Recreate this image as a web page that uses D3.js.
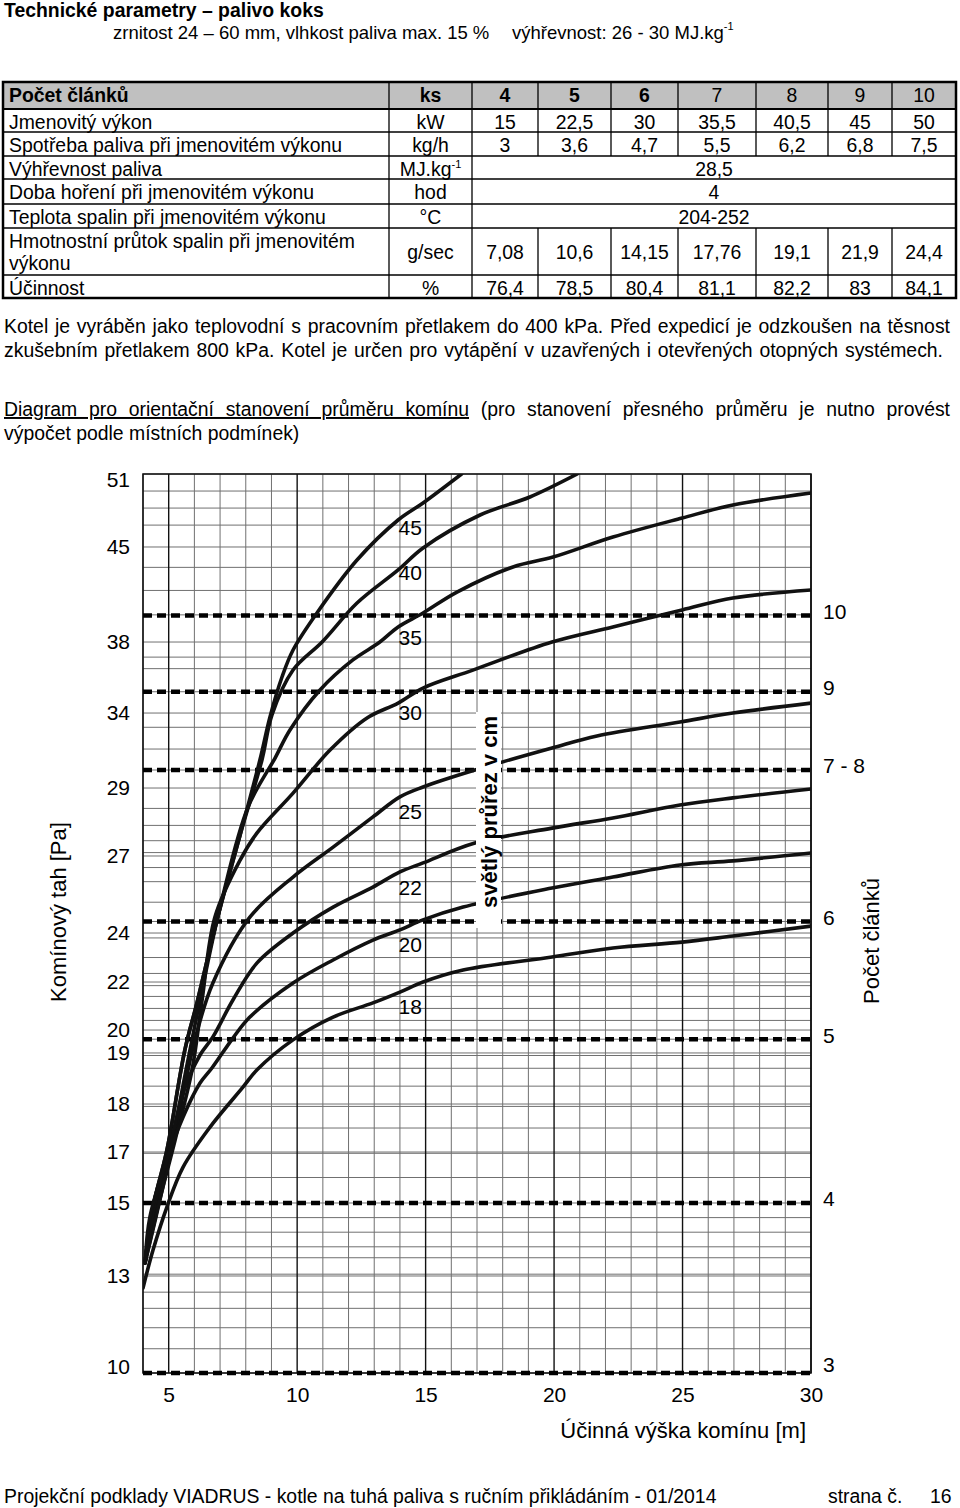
<!DOCTYPE html>
<html><head><meta charset="utf-8">
<script src="https://cdn.jsdelivr.net/npm/d3@7"></script>
<style>
body{margin:0;background:#fff;}
svg{display:block;font-family:"Liberation Sans",Arial,Helvetica,sans-serif;}
</style></head><body>
<svg id="c" width="960" height="1508"></svg>
<script>
// ---------- table data ----------
const sectionCounts   = ["4","5","6","7","8","9","10"];
const nominalOutput   = ["15","22,5","30","35,5","40,5","45","50"];
const fuelConsumption = ["3","3,6","4,7","5,5","6,2","6,8","7,5"];
const calorificValue  = "28,5";
const burnTime        = "4";
const fluegasTemp     = "204-252";
const fluegasFlow     = ["7,08","10,6","14,15","17,76","19,1","21,9","24,4"];
const efficiency      = ["76,4","78,5","80,4","81,1","82,2","83","84,1"];

// ---------- chart data ----------
const xTicks = [5,10,15,20,25,30];
const yTicks = [51,45,38,34,29,27,24,22,20,19,18,17,15,13,10];
const yGridValues = [49.6,48.2,46.8,43.5,41.8,40,37.15,36.5,35.2,33.05,31.6,30.2,28.4,27.9,27.45,27.1,
  26.55,26,25.2,24.45,23.8,23,22.35,21.85,21.4,20.9,20.4,19.6,18.95,18.7,18.35,17.95,17.5,16.95,16,
  14.6,14.2,13.8,13.5,13.05,12.5,12,11.4,10.75];
const sectionLabels = ["10","9","7 - 8","6","5","4","3"];
const sectionDraft  = [39.95,35.2,30.2,24.45,19.6,15,10];
const crossSections = [45,40,35,30,25,22,20,18];
const curve45 = [[4.08,13.36],[4.39,14.89],[4.93,17.04],[5.63,19.13],[6.10,21.13],[6.88,24.51],[7.78,27.62],[8.55,30.87],[8.94,33.73],[9.41,36.03],[9.84,37.55],[10.77,40.14],[12.33,44.04],[13.93,47.22],[14.90,48.62],[16.4,51]];
const curve40 = [[4.08,13.36],[4.39,14.89],[4.93,17.04],[5.63,19.13],[6.10,21.13],[6.88,24.51],[7.78,27.62],[8.63,30.87],[9.02,33.87],[9.84,36.42],[10.97,38.0],[12.33,40.87],[13.93,43.31],[14.90,44.93],[17.12,47.63],[19.06,49.11],[20.9,51]];
const curve35 = [[4.08,13.36],[4.47,14.89],[5.05,17.04],[5.75,18.86],[6.34,21.88],[7.07,25.29],[8.09,28.44],[9.14,31.0],[9.72,32.87],[10.89,35.30],[12.17,36.99],[13.22,38.0],[13.93,39.11],[14.90,40.14],[16.22,41.68],[18.40,43.53],[19.96,44.26],[22.29,45.82],[24.98,47.38],[26.96,48.45],[30,49.44]];
const curve30 = [[4.08,13.36],[4.58,14.89],[5.25,17.25],[5.91,18.67],[6.30,21.25],[6.80,24.62],[7.78,26.84],[8.44,27.68],[9.84,28.85],[11.28,31.53],[12.72,33.67],[13.93,34.56],[14.90,35.41],[16.84,36.42],[19.92,38.0],[22.29,39.11],[24.98,40.36],[26.96,41.24],[30,41.83]];
const curve25 = [[4.08,13.36],[4.66,15.12],[5.36,17.67],[6.02,19.57],[6.72,21.96],[8.16,24.62],[9.84,26.18],[11.40,27.26],[12.95,28.15],[14.0,28.74],[14.90,29.07],[16.92,30.2],[19.92,31.67],[21.67,32.47],[24.90,33.4],[26.96,34.0],[30,34.56]];
const curve22 = [[4.08,13.36],[4.47,15.0],[4.97,16.80],[5.56,18.22],[6.22,18.96],[6.72,19.70],[7.50,21.25],[8.44,22.78],[9.84,24.0],[11.40,25.01],[12.95,25.79],[14.0,26.38],[14.90,26.73],[16.92,27.38],[19.92,27.82],[22.29,28.12],[24.90,28.5],[26.96,28.71],[30,28.97]];
const curve20 = [[4.08,13.36],[4.27,14.62],[4.93,16.69],[5.56,17.73],[6.22,18.41],[6.69,18.71],[7.50,19.65],[8.16,20.54],[9.84,21.96],[11.40,22.9],[12.95,23.71],[14.0,24.12],[14.90,24.51],[16.46,25.01],[19.92,25.75],[22.29,26.18],[24.90,26.65],[26.96,26.81],[30,27.09]];
const curve18 = [[4.0,12.63],[4.39,13.71],[4.93,14.89],[5.56,16.41],[6.61,17.52],[7.89,18.33],[8.44,18.67],[9.84,19.57],[11.40,20.54],[12.95,21.13],[14.0,21.58],[14.90,22.0],[16.46,22.49],[19.92,23.02],[22.29,23.39],[24.98,23.63],[26.96,23.88],[30,24.27]];
const curves = [curve45,curve40,curve35,curve30,curve25,curve22,curve20,curve18];

// ---------- page ----------
const svg = d3.select("#c");
const FS = 19.4;

function justify(sel, target){
  const n = sel.node();
  const len = n.getComputedTextLength();
  const spaces = (n.textContent.match(/ /g)||[]).length;
  if(spaces>0) sel.attr("word-spacing", (target-len)/spaces);
}

// header
svg.append("text").attr("x",4).attr("y",17).attr("font-size",FS).attr("font-weight","bold")
  .text("Technické parametry – palivo koks");
svg.append("text").attr("x",113).attr("y",39).attr("font-size",18.5)
  .text("zrnitost 24 – 60 mm, vlhkost paliva max. 15 %");
const hv = svg.append("text").attr("x",512).attr("y",39).attr("font-size",18.5);
hv.append("tspan").text("výhřevnost: 26 - 30 MJ.kg");
hv.append("tspan").attr("font-size",11).attr("dy",-9).text("-1");

// table
const colX = [3,389,472,538,611,678,756,828,892,956];
const rowY = [82,109,132,156,179,204,228,275,298];
const rows = [
  {label:["Počet článků"], unit:"ks", cells:sectionCounts, header:true},
  {label:["Jmenovitý výkon"], unit:"kW", cells:nominalOutput},
  {label:["Spotřeba paliva při jmenovitém výkonu"], unit:"kg/h", cells:fuelConsumption},
  {label:["Výhřevnost paliva"], unit:"MJ.kg", sup:"-1", merged:calorificValue},
  {label:["Doba hoření při jmenovitém výkonu"], unit:"hod", merged:burnTime},
  {label:["Teplota spalin při jmenovitém výkonu"], unit:"°C", merged:fluegasTemp},
  {label:["Hmotnostní průtok spalin při jmenovitém","výkonu"], unit:"g/sec", cells:fluegasFlow},
  {label:["Účinnost"], unit:"%", cells:efficiency}
];
const tb = svg.append("g");
tb.append("rect").attr("x",colX[0]).attr("y",rowY[0]).attr("width",colX[9]-colX[0]).attr("height",rowY[1]-rowY[0]).attr("fill","#c0c0c0");
rows.forEach((r,i)=>{
  const t=rowY[i], b=rowY[i+1], mid=(t+b)/2;
  const base = r.label.length>1 ? mid+7 : t+19.5;
  if(r.label.length>1){
    r.label.forEach((l,k)=>tb.append("text").attr("x",9).attr("y",t+20+k*22).attr("font-size",FS).text(l));
  } else {
    tb.append("text").attr("x",9).attr("y",base).attr("font-size",FS).attr("font-weight",r.header?"bold":null).text(r.label[0]);
  }
  const u = tb.append("text").attr("x",(colX[1]+colX[2])/2).attr("y",base).attr("font-size",FS)
    .attr("text-anchor","middle").attr("font-weight",r.header?"bold":null);
  u.append("tspan").text(r.unit);
  if(r.sup) u.append("tspan").attr("font-size",11).attr("dy",-8).text(r.sup);
  if(r.merged){
    tb.append("text").attr("x",(colX[2]+colX[9])/2).attr("y",base).attr("font-size",FS).attr("text-anchor","middle").text(r.merged);
  } else {
    r.cells.forEach((c,j)=>tb.append("text").attr("x",(colX[j+2]+colX[j+3])/2).attr("y",base)
      .attr("font-size",FS).attr("text-anchor","middle").attr("font-weight",(r.header&&j<3)?"bold":null).text(c));
  }
  colX.forEach((cx,j)=>{
    if(j===0||j===9) return;
    if(r.merged && j>2) return;
    tb.append("line").attr("x1",cx).attr("x2",cx).attr("y1",t).attr("y2",b).attr("stroke","#000").attr("stroke-width",1.3);
  });
});
rowY.forEach((ry,i)=>{
  if(i===0||i===rowY.length-1) return;
  tb.append("line").attr("x1",colX[0]).attr("x2",colX[9]).attr("y1",ry).attr("y2",ry).attr("stroke","#000").attr("stroke-width",i===1?2:1.3);
});
tb.append("rect").attr("x",colX[0]).attr("y",rowY[0]).attr("width",colX[9]-colX[0]).attr("height",rowY[8]-rowY[0])
  .attr("fill","none").attr("stroke","#000").attr("stroke-width",2.5);

// paragraphs
const p1 = svg.append("text").attr("x",4).attr("y",333).attr("font-size",FS)
  .text("Kotel je vyráběn jako teplovodní s pracovním přetlakem do 400 kPa. Před expedicí je odzkoušen na těsnost");
justify(p1, 946);
const p2 = svg.append("text").attr("x",4).attr("y",357).attr("font-size",FS)
  .text("zkušebním přetlakem 800 kPa. Kotel je určen pro vytápění v uzavřených i otevřených otopných systémech.");
justify(p2, 939);
const d1 = svg.append("text").attr("x",4).attr("y",416).attr("font-size",FS);
d1.append("tspan").attr("text-decoration","underline").text("Diagram pro orientační stanovení průměru komínu");
d1.append("tspan").text(" (pro stanovení přesného průměru je nutno provést");
justify(d1, 946);
svg.append("text").attr("x",4).attr("y",440).attr("font-size",FS).text("výpočet podle místních podmínek)");

// ---------- chart ----------
const plot = {left:143,right:811,top:474,bottom:1373};
const x = d3.scaleLinear().domain([4,30]).range([plot.left,plot.right]);
const yFrac = [0,0.0812,0.1869,0.2659,0.3493,0.4249,0.5106,0.5651,0.6185,0.6440,0.7008,0.7542,0.8109,0.8921,1];
const y = d3.scaleLinear().domain(yTicks).range(yFrac.map(f=>plot.top+f*(plot.bottom-plot.top)));

const ch = svg.append("g");
const hGrid = Array.from(new Set(yTicks.concat(yGridValues)));
ch.selectAll("line.hg").data(hGrid).join("line").attr("class","hg")
  .attr("x1",plot.left).attr("x2",plot.right).attr("y1",d=>y(d)).attr("y2",d=>y(d))
  .attr("stroke","#707070").attr("stroke-width",1);
const minorX = d3.range(4,31).filter(v=>v%5!==0);
ch.selectAll("line.vg").data(minorX).join("line").attr("class","vg")
  .attr("x1",d=>x(d)).attr("x2",d=>x(d)).attr("y1",plot.top).attr("y2",plot.bottom)
  .attr("stroke","#707070").attr("stroke-width",1);
ch.selectAll("line.vm").data(xTicks).join("line").attr("class","vm")
  .attr("x1",d=>x(d)).attr("x2",d=>x(d)).attr("y1",plot.top).attr("y2",plot.bottom)
  .attr("stroke","#111").attr("stroke-width",1.4);
ch.append("path").attr("d",`M${x(4)},${y(10)}V${y(51)}H${x(30)}V${y(10)}Z`)
  .attr("fill","none").attr("stroke","#111").attr("stroke-width",1.6);

// dashed section lines
ch.selectAll("line.ds").data(sectionDraft).join("line").attr("class","ds")
  .attr("x1",plot.left).attr("x2",plot.right).attr("y1",d=>y(d)).attr("y2",d=>y(d))
  .attr("stroke","#000").attr("stroke-width",4.5).attr("stroke-dasharray","9,5");

// curves
const line = d3.line().x(d=>x(d[0])).y(d=>y(d[1])).curve(d3.curveCatmullRom.alpha(0.5));
ch.append("defs").append("clipPath").attr("id","pc").append("rect")
  .attr("x",plot.left).attr("y",plot.top).attr("width",plot.right-plot.left).attr("height",plot.bottom-plot.top);
ch.append("g").attr("clip-path","url(#pc)").selectAll("path").data(curves).join("path")
  .attr("d",line).attr("fill","none").attr("stroke","#111").attr("stroke-width",3.6)
  .attr("stroke-linecap","round").attr("stroke-linejoin","round");

// curve labels (cross-section in cm), placed under each curve near x = 14.9 m
function yAt(c,xv){
  for(let i=1;i<c.length;i++){ if(c[i][0]>=xv){const a=c[i-1],b=c[i];const t=(xv-a[0])/(b[0]-a[0]);return y(a[1])+t*(y(b[1])-y(a[1]));} }
  return y(c[c.length-1][1]);
}
ch.selectAll("text.cl").data(crossSections).join("text").attr("class","cl")
  .attr("x",x(14.4)).attr("y",(d,i)=>yAt(curves[i],14.9)+25).attr("dy","0.35em")
  .attr("text-anchor","middle").attr("font-size",21).text(d=>d);

// vertical annotation with white background
const ann = ch.append("g");
const annText = ann.append("text").attr("transform","translate(497,812) rotate(-90)")
  .attr("text-anchor","middle").attr("font-size",22).attr("font-weight","bold").text("světlý průřez v cm");
const bb = annText.node().getBBox();
ann.insert("rect","text").attr("x",476).attr("y",812-bb.width/2-4).attr("width",25).attr("height",bb.width+24).attr("fill","#fff");

// left axis (draft)
const ya = svg.append("g").attr("transform",`translate(${plot.left},0)`)
  .call(d3.axisLeft(y).tickValues(yTicks).tickSize(0).tickPadding(13).tickFormat(d=>d));
ya.select(".domain").remove();
ya.selectAll("text").attr("font-size",21).attr("font-family",null).attr("fill","#000")
  .attr("y",d=> d===51 ? 6 : (d===10 ? -6 : 0));

// bottom axis (height)
const xa = svg.append("g").attr("transform",`translate(0,${plot.bottom})`)
  .call(d3.axisBottom(x).tickValues(xTicks).tickSize(0).tickPadding(14));
xa.select(".domain").remove();
xa.selectAll("text").attr("font-size",21).attr("font-family",null).attr("fill","#000");

// right labels (section counts)
ch.selectAll("text.sl").data(sectionLabels).join("text").attr("class","sl")
  .attr("x",plot.right+12).attr("y",(d,i)=>Math.min(y(sectionDraft[i])-4, plot.bottom-8)).attr("dy","0.35em")
  .attr("font-size",21).text(d=>d);

// titles
svg.append("text").attr("transform","translate(66,912) rotate(-90)").attr("text-anchor","middle")
  .attr("font-size",22).text("Komínový tah [Pa]");
svg.append("text").attr("transform","translate(879,941) rotate(-90)").attr("text-anchor","middle")
  .attr("font-size",22).text("Počet článků");
svg.append("text").attr("x",806).attr("y",1438).attr("text-anchor","end")
  .attr("font-size",22).text("Účinná výška komínu [m]");

// footer
svg.append("text").attr("x",4).attr("y",1503).attr("font-size",FS)
  .text("Projekční podklady VIADRUS - kotle na tuhá paliva s ručním přikládáním  - 01/2014");
svg.append("text").attr("x",828).attr("y",1503).attr("font-size",FS).text("strana č.");
svg.append("text").attr("x",930).attr("y",1503).attr("font-size",FS).text("16");
</script>
</body></html>
